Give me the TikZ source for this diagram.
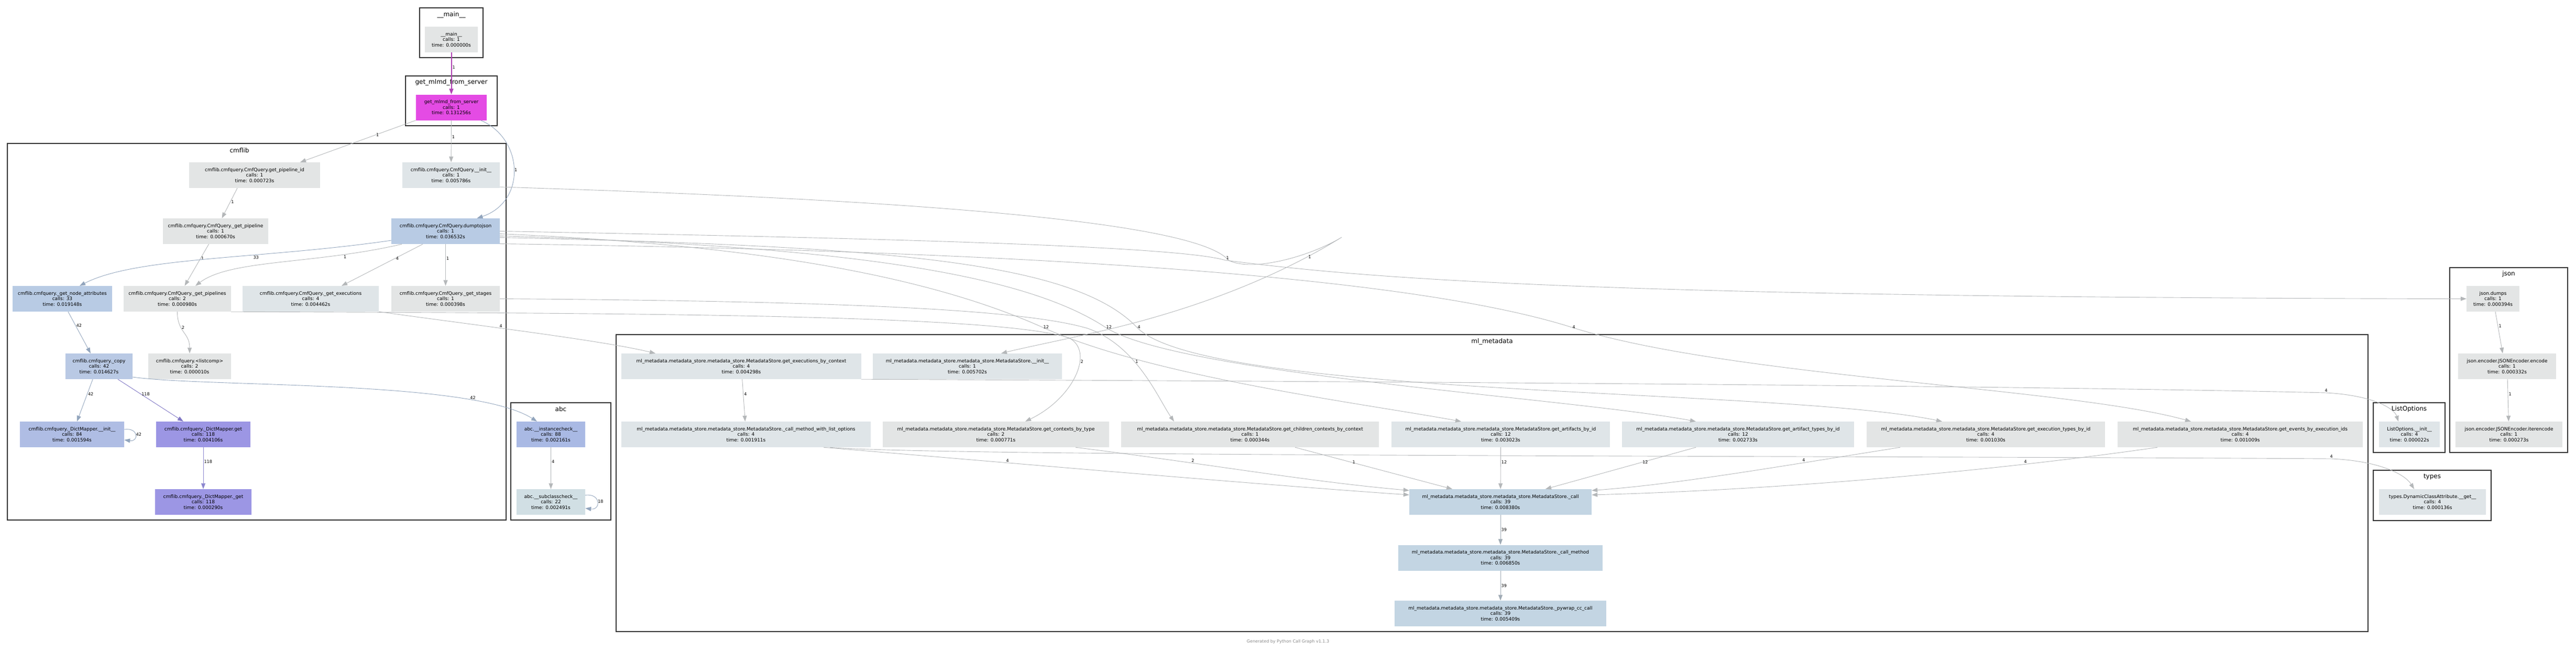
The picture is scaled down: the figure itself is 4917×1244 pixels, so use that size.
\documentclass[tikz,border=0pt]{standalone}
\usepackage{fontspec}
\setmainfont{DejaVu Sans}
\usepackage{tikz}
\usepackage{xcolor}
\usetikzlibrary{arrows.meta,positioning}

\definecolor{fn-gray}{HTML}{E3E5E5}
\definecolor{fn-steel}{HTML}{DFE5E8}
\definecolor{fn-blue}{HTML}{B8CBE4}
\definecolor{fn-copy}{HTML}{B9C9E4}
\definecolor{fn-dminit}{HTML}{AFBDE4}
\definecolor{fn-inst}{HTML}{A9B9E4}
\definecolor{fn-purple}{HTML}{9C96E4}
\definecolor{fn-sub}{HTML}{D1DFE4}
\definecolor{fn-call}{HTML}{C3D5E3}
\definecolor{fn-magenta}{HTML}{E44BE4}
\definecolor{edge-gray}{HTML}{B4B7B9}
\definecolor{edge-blue}{HTML}{92A5BD}
\definecolor{edge-steel}{HTML}{A0ABB5}
\definecolor{edge-purple}{HTML}{7F76C4}
\definecolor{edge-violet}{HTML}{8C86CF}
\definecolor{edge-magenta}{HTML}{B144B4}
\definecolor{frame-gray}{HTML}{333333}
\definecolor{footer-gray}{HTML}{888888}

\newcommand{\callfont}{\fontsize{9bp}{10.5bp}\selectfont}
\newcommand{\groupfont}{\fontsize{12bp}{14bp}\selectfont}
\newcommand{\countfont}{\fontsize{8bp}{9bp}\selectfont}
\newcommand{\mdstore}{ml\_metadata.metadata\_store.metadata\_store.MetadataStore.}

\tikzset{
    call-box/.style = {rectangle, inner sep=0pt, minimum height=49bp, align=center, font=\callfont},
    group-box/.style = {draw=frame-gray, line width=2.6bp},
    group-title/.style = {font=\groupfont, inner sep=0pt},
    call-edge/.style = {draw=edge-gray, line width=0.9bp, -{Triangle[length=11bp,width=8bp]}},
    call-count/.style = {font=\countfont, inner sep=1.2bp},
}

\begin{document}
\begin{tikzpicture}[x=1bp, y=-1bp]
\fill[white] (0,0) rectangle (4917,1244);
\useasboundingbox (0,0) rectangle (4917,1244);

\draw[group-box] (801,15) rectangle (922,110);
\node[group-title] (main-title) at (861.5,28) {\_\_main\_\_};
\draw[group-box] (774,145) rectangle (949,240);
\node[group-title] (gmfs-title) at (861.5,157) {get\_mlmd\_from\_server};
\draw[group-box] (14,274) rectangle (966,993);
\node[group-title] (cmflib-title) at (457,287) {cmflib};
\draw[group-box] (975,769) rectangle (1166,993);
\node[group-title] (abc-title) at (1070.5,781) {abc};
\draw[group-box] (1176,639) rectangle (4520,1206);
\node[group-title] (mlmd-title) at (2848,652) {ml\_metadata};
\draw[group-box] (4676,511) rectangle (4901,864);
\node[group-title] (json-title) at (4788.5,523) {json};
\draw[group-box] (4530,769) rectangle (4667,864);
\node[group-title] (lopt-title) at (4598.5,781) {ListOptions};
\draw[group-box] (4530,898) rectangle (4755,994);
\node[group-title] (types-title) at (4642.5,911) {types};

\node[call-box, fill=fn-gray, minimum width=101bp] (main) at (861.5,75.5) {\_\_main\_\_\\calls: 1\\time: 0.000000s};
\node[call-box, fill=fn-magenta, minimum width=135bp] (gmfs) at (861.5,205) {get\_mlmd\_from\_server\\calls: 1\\time: 0.131256s};

\node[call-box, fill=fn-gray, minimum width=250bp] (gpid) at (486,334.5) {cmflib.cmfquery.CmfQuery.get\_pipeline\_id\\calls: 1\\time: 0.000723s};
\node[call-box, fill=fn-steel, minimum width=186bp] (cinit) at (861,334.5) {cmflib.cmfquery.CmfQuery.\_\_init\_\_\\calls: 1\\time: 0.005786s};
\node[call-box, fill=fn-gray, minimum width=201bp] (gpipe) at (411.5,441.5) {cmflib.cmfquery.CmfQuery.\_get\_pipeline\\calls: 1\\time: 0.000670s};
\node[call-box, fill=fn-blue, minimum width=207bp] (dump) at (850.5,441.5) {cmflib.cmfquery.CmfQuery.dumptojson\\calls: 1\\time: 0.036532s};
\node[call-box, fill=fn-blue, minimum width=190bp] (nattr) at (119,570.5) {cmflib.cmfquery.\_get\_node\_attributes\\calls: 33\\time: 0.019148s};
\node[call-box, fill=fn-gray, minimum width=205bp] (gpipes) at (338.5,570.5) {cmflib.cmfquery.CmfQuery.\_get\_pipelines\\calls: 2\\time: 0.000980s};
\node[call-box, fill=fn-steel, minimum width=260bp] (gexec) at (593,570.5) {cmflib.cmfquery.CmfQuery.\_get\_executions\\calls: 4\\time: 0.004462s};
\node[call-box, fill=fn-gray, minimum width=207bp] (gstage) at (850.5,570.5) {cmflib.cmfquery.CmfQuery.\_get\_stages\\calls: 1\\time: 0.000398s};
\node[call-box, fill=fn-copy, minimum width=128bp] (copy) at (189,699.5) {cmflib.cmfquery.\_copy\\calls: 42\\time: 0.014627s};
\node[call-box, fill=fn-gray, minimum width=158bp] (lcomp) at (362,699.5) {cmflib.cmfquery.<listcomp>\\calls: 2\\time: 0.000010s};
\node[call-box, fill=fn-dminit, minimum width=199bp] (dminit) at (137.5,829.5) {cmflib.cmfquery.\_DictMapper.\_\_init\_\_\\calls: 84\\time: 0.001594s};
\node[call-box, fill=fn-purple, minimum width=180bp] (dmget) at (388,829.5) {cmflib.cmfquery.\_DictMapper.get\\calls: 118\\time: 0.004106s};
\node[call-box, fill=fn-purple, minimum width=184bp] (dmpget) at (388,958.5) {cmflib.cmfquery.\_DictMapper.\_get\\calls: 118\\time: 0.000290s};

\node[call-box, fill=fn-inst, minimum width=131bp] (inst) at (1051.5,829.5) {abc.\_\_instancecheck\_\_\\calls: 88\\time: 0.002161s};
\node[call-box, fill=fn-sub, minimum width=131bp] (subc) at (1051.5,958.5) {abc.\_\_subclasscheck\_\_\\calls: 22\\time: 0.002491s};

\node[call-box, fill=fn-steel, minimum width=458bp] (gebc) at (1415,699.5) {\mdstore get\_executions\_by\_context\\calls: 4\\time: 0.004298s};
\node[call-box, fill=fn-steel, minimum width=361bp] (mdinit) at (1846.5,699.5) {\mdstore\_\_init\_\_\\calls: 1\\time: 0.005702s};
\node[call-box, fill=fn-steel, minimum width=476bp] (cmwlo) at (1424,829.5) {\mdstore\_call\_method\_with\_list\_options\\calls: 4\\time: 0.001911s};
\node[call-box, fill=fn-gray, minimum width=432bp] (gcbt) at (1901,829.5) {\mdstore get\_contexts\_by\_type\\calls: 2\\time: 0.000771s};
\node[call-box, fill=fn-gray, minimum width=492bp] (gccbc) at (2386,829.5) {\mdstore get\_children\_contexts\_by\_context\\calls: 1\\time: 0.000344s};
\node[call-box, fill=fn-steel, minimum width=417bp] (gabi) at (2864.5,829.5) {\mdstore get\_artifacts\_by\_id\\calls: 12\\time: 0.003023s};
\node[call-box, fill=fn-steel, minimum width=443bp] (gatbi) at (3317.5,829.5) {\mdstore get\_artifact\_types\_by\_id\\calls: 12\\time: 0.002733s};
\node[call-box, fill=fn-gray, minimum width=455bp] (getbi) at (3790.5,829.5) {\mdstore get\_execution\_types\_by\_id\\calls: 4\\time: 0.001030s};
\node[call-box, fill=fn-gray, minimum width=468bp] (gebei) at (4276,829.5) {\mdstore get\_events\_by\_execution\_ids\\calls: 4\\time: 0.001009s};
\node[call-box, fill=fn-call, minimum width=348bp] (call) at (2864,958.5) {\mdstore\_call\\calls: 39\\time: 0.008380s};
\node[call-box, fill=fn-call, minimum width=390bp] (callm) at (2864,1065) {\mdstore\_call\_method\\calls: 39\\time: 0.006850s};
\node[call-box, fill=fn-call, minimum width=404bp] (pywrap) at (2864,1171.5) {\mdstore\_pywrap\_cc\_call\\calls: 39\\time: 0.005409s};

\node[call-box, fill=fn-gray, minimum width=101bp] (jdumps) at (4758.5,570.5) {json.dumps\\calls: 1\\time: 0.000394s};
\node[call-box, fill=fn-gray, minimum width=187bp] (jenc) at (4785.5,699.5) {json.encoder.JSONEncoder.encode\\calls: 1\\time: 0.000332s};
\node[call-box, fill=fn-gray, minimum width=204bp] (jiter) at (4789,829.5) {json.encoder.JSONEncoder.iterencode\\calls: 1\\time: 0.000273s};
\node[call-box, fill=fn-steel, minimum width=116bp] (lopt) at (4599,829.5) {ListOptions.\_\_init\_\_\\calls: 4\\time: 0.000022s};
\node[call-box, fill=fn-steel, minimum width=204bp] (dyncls) at (4643,958.5) {types.DynamicClassAttribute.\_\_get\_\_\\calls: 4\\time: 0.000136s};

\draw[call-edge, draw=edge-magenta, line width=2bp] (main) -- (gmfs) node[call-count, pos=.35, anchor=west] {1};
\draw[call-edge] (gmfs.south west) -- ([xshift=87bp]gpid.north) node[call-count, pos=.35, anchor=west] {1};
\draw[call-edge] (gmfs) -- (cinit) node[call-count, pos=.4, anchor=west] {1};
\draw[call-edge, draw=edge-blue] ([xshift=56bp]gmfs.south) .. controls (1000,265) and (1005,385) .. ([xshift=60bp]dump.north) node[call-count, pos=.5, anchor=west] {1};
\draw[call-edge] ([xshift=-33bp]gpid.south) -- ([xshift=12bp]gpipe.north) node[call-count, pos=.45, anchor=west] {1};
\draw[call-edge] ([xshift=-13bp]gpipe.south) -- ([xshift=14bp]gpipes.north) node[call-count, pos=.35, anchor=west] {1};
\draw[call-edge, draw=edge-blue] ([yshift=-17.5bp]dump.west) .. controls (500,495) and (260,490) .. ([xshift=33bp]nattr.north) node[call-count, pos=.36, anchor=north] {33};
\draw[call-edge] ([xshift=-83.5bp]dump.south) .. controls (600,505) and (440,495) .. ([xshift=34.5bp]gpipes.north) node[call-count, pos=.22, anchor=north] {1};
\draw[call-edge] ([xshift=-43.5bp]dump.south) -- ([xshift=59bp]gexec.north) node[call-count, pos=.34, anchor=west] {4};
\draw[call-edge] (dump) -- (gstage) node[call-count, pos=.35, anchor=west] {1};
\draw[call-edge] (gpipes.south) .. controls +(0,40) and +(0,-40) .. (lcomp.north) node[call-count, pos=.35, anchor=west] {2};

\draw[call-edge] ([yshift=-22.5bp]cinit.east) .. controls (1700,380) and (2280,420) .. (2345,497) .. controls (2390,520) and (2500,490) .. (2561,453) .. controls (2420,540) and (2250,600) .. (2076,638) node[call-count, pos=.15, anchor=west] {1} .. controls (2000,655) and (1950,665) .. ([xshift=64.5bp]mdinit.north);
\draw[call-edge] (dump.east) .. controls (1700,455) and (2250,470) .. (2339,497) node[call-count, pos=1, anchor=south west] {1} .. controls (2600,530) and (3000,568) .. (jdumps.west);
\draw[call-edge] (gpipes.south east) .. controls (1200,598) and (1900,600) .. (2040,645) .. controls (2090,670) and (2050,760) .. ([xshift=56bp]gcbt.north) node[call-count, pos=.35, anchor=west] {2};
\draw[call-edge] (gexec.south east) .. controls (900,620) and (1150,650) .. ([xshift=-164bp]gebc.north) node[call-count, pos=.4, anchor=south] {4};
\draw[call-edge] (gstage.east) .. controls (1600,575) and (1950,590) .. (2076,627) .. controls (2170,660) and (2210,760) .. ([xshift=-145bp]gccbc.north) node[call-count, pos=.4, anchor=west] {1};
\draw[call-edge] ([yshift=-5bp]dump.east) .. controls (1500,470) and (1800,540) .. (1990,625) node[call-count, pos=1, anchor=west] {12} .. controls (2200,720) and (2600,770) .. ([xshift=-75.5bp]gabi.north);
\draw[call-edge] ([yshift=-9bp]dump.east) .. controls (1600,470) and (1950,520) .. (2110,625) node[call-count, pos=1, anchor=west] {12} .. controls (2250,715) and (3000,760) .. ([xshift=-80.5bp]gatbi.north);
\draw[call-edge] ([yshift=-12bp]dump.east) .. controls (1700,470) and (2050,500) .. (2170,625) node[call-count, pos=1, anchor=west] {4} .. controls (2300,760) and (3400,740) .. ([xshift=-83.5bp]getbi.north);
\draw[call-edge] ([yshift=-24bp]dump.east) .. controls (2000,480) and (2700,530) .. (3000,625) node[call-count, pos=1, anchor=west] {4} .. controls (3300,720) and (3950,740) .. ([xshift=-94bp]gebei.north);

\draw[call-edge] (gebc) -- (cmwlo) node[call-count, pos=.35, anchor=west] {4};
\draw[call-edge] (gebc.south east) .. controls (2500,728) and (3800,735) .. (4440,750) node[call-count, pos=1, anchor=south] {4} .. controls (4530,755) and (4570,780) .. ([xshift=-21bp]lopt.north);
\draw[call-edge] ([xshift=160bp]cmwlo.south) .. controls (1800,872) and (3500,870) .. (4450,876) node[call-count, pos=1, anchor=south] {4} .. controls (4540,880) and (4590,905) .. ([xshift=-35bp]dyncls.north);
\draw[call-edge] ([xshift=148bp]cmwlo.south) .. controls (2000,890) and (2400,925) .. ([yshift=13.5bp]call.west) node[call-count, pos=.28, anchor=south] {4};
\draw[call-edge] ([xshift=152bp]gcbt.south) .. controls (2300,885) and (2500,920) .. ([yshift=22bp]call.west) node[call-count, pos=.32, anchor=south] {2};
\draw[call-edge] ([xshift=86bp]gccbc.south) -- ([xshift=-92bp]call.north) node[call-count, pos=.36, anchor=west] {1};
\draw[call-edge] (gabi) -- (call) node[call-count, pos=.35, anchor=west] {12};
\draw[call-edge] ([xshift=-80.5bp]gatbi.south) -- ([xshift=86bp]call.north) node[call-count, pos=.36, anchor=west] {12};
\draw[call-edge] ([xshift=-163.5bp]getbi.south) .. controls (3400,890) and (3200,925) .. ([yshift=22bp]call.east) node[call-count, pos=.28, anchor=south] {4};
\draw[call-edge] ([xshift=-158bp]gebei.south) .. controls (3800,900) and (3400,935) .. ([yshift=13.5bp]call.east) node[call-count, pos=.25, anchor=south] {4};
\draw[call-edge, draw=edge-steel] (call) -- (callm) node[call-count, pos=.5, anchor=west] {39};
\draw[call-edge, draw=edge-steel] (callm) -- (pywrap) node[call-count, pos=.5, anchor=west] {39};

\draw[call-edge] ([xshift=4.5bp]jdumps.south) -- ([xshift=-8.5bp]jenc.north) node[call-count, pos=.35, anchor=west] {1};
\draw[call-edge] (jenc) -- (jiter) node[call-count, pos=.35, anchor=west] {1};

\draw[call-edge, draw=edge-blue] ([xshift=11bp]nattr.south) -- ([xshift=-16bp]copy.north) node[call-count, pos=.33, anchor=west] {42};
\draw[call-edge, draw=edge-blue] ([xshift=-12bp]copy.south) -- ([xshift=9.5bp]dminit.north) node[call-count, pos=.35, anchor=west] {42};
\draw[call-edge, draw=edge-purple] ([xshift=36bp]copy.south) -- ([xshift=-38bp]dmget.north) node[call-count, pos=.35, anchor=west] {118};
\draw[call-edge, draw=edge-blue] ([yshift=-20.5bp]copy.east) .. controls (400,740) and (900,725) .. ([xshift=-26.5bp]inst.north) node[call-count, pos=.78, anchor=south west] {42};
\draw[call-edge, draw=edge-blue] ([yshift=9.5bp]dminit.east) .. controls +(28,-4) and +(28,4) .. ([yshift=-10.5bp]dminit.east) node[call-count, pos=.5, anchor=west] {42};
\draw[call-edge, draw=edge-violet] (dmget) -- (dmpget) node[call-count, pos=.35, anchor=west] {118};
\draw[call-edge] (inst) -- (subc) node[call-count, pos=.35, anchor=west] {4};
\draw[call-edge, draw=edge-blue] ([yshift=13bp]subc.east) .. controls +(30,-4) and +(30,4) .. ([yshift=-12bp]subc.east) node[call-count, pos=.5, anchor=west] {18};

\node[font=\countfont, text=footer-gray] (footer) at (2458.5,1225) {Generated by Python Call Graph v1.1.3};
\end{tikzpicture}
\end{document}
